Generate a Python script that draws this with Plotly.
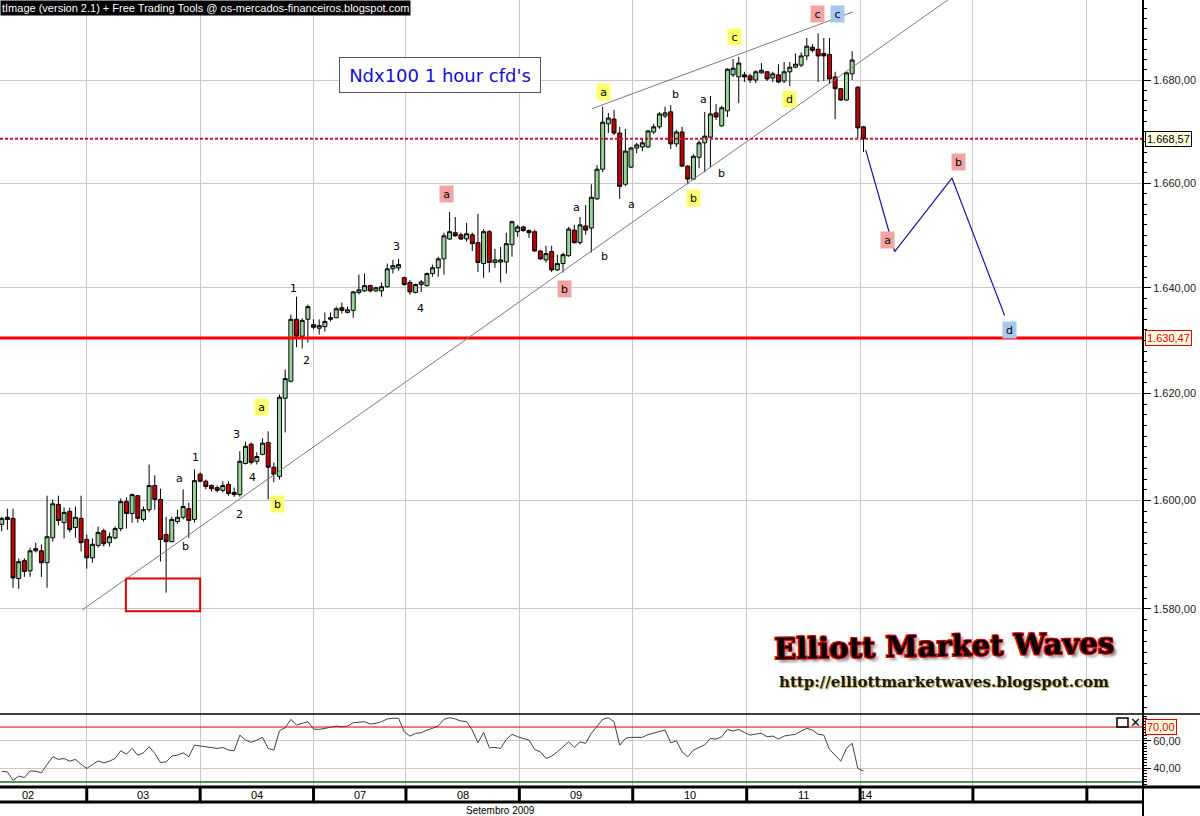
import math
import plotly.graph_objects as go

# ---------------- data (hourly bars, 02..14 Sep 2009) ----------------
bars = list(range(153))
open_ = [1595.6, 1596.9, 1596.7, 1585.6, 1588.9, 1587.0, 1590.7, 1590.7, 1588.5, 1593.1,
         1599.3, 1595.9, 1598.0, 1595.0, 1596.7, 1592.8, 1589.4, 1591.7, 1594.4, 1592.2,
         1593.1, 1594.8, 1599.8, 1597.6, 1600.9, 1596.5, 1598.3, 1602.8, 1600.2, 1593.7,
         1592.4, 1596.1, 1596.9, 1598.5, 1596.5, 1604.9, 1603.6, 1602.8, 1602.4, 1601.9,
         1603.0, 1601.5, 1601.1, 1606.9, 1610.5, 1607.3, 1608.6, 1610.8, 1606.2, 1604.5,
         1619.1, 1622.3, 1634.0, 1630.8, 1634.0, 1633.0, 1632.3, 1632.6, 1634.0, 1634.3,
         1636.2, 1635.3, 1635.7, 1639.1, 1639.4, 1640.4, 1639.4, 1639.4, 1640.2, 1643.6,
         1643.8, 1641.9, 1641.0, 1639.1, 1640.6, 1640.4, 1642.7, 1643.8, 1645.5, 1649.3,
         1650.5, 1650.1, 1649.3, 1650.1, 1648.6, 1644.6, 1650.7, 1644.8, 1644.9, 1644.9,
         1648.2, 1650.7, 1651.6, 1650.9, 1650.7, 1647.0, 1645.3, 1646.9, 1643.4, 1644.6,
         1646.1, 1651.0, 1648.6, 1651.8, 1651.4, 1657.0, 1662.7, 1671.5, 1672.4, 1669.7,
         1659.8, 1663.1, 1666.8, 1667.0, 1667.0, 1669.9, 1670.9, 1673.0, 1673.8, 1667.6,
         1669.9, 1663.3, 1660.8, 1665.0, 1667.8, 1668.9, 1673.6, 1671.1, 1674.0, 1681.0,
         1680.6, 1681.0, 1680.8, 1680.0, 1681.4, 1681.6, 1680.4, 1681.0, 1679.8, 1681.6,
         1682.5, 1682.9, 1684.7, 1686.4, 1686.0, 1685.2, 1685.0, 1680.6, 1678.3, 1676.1,
         1681.2, 1678.6, 1670.9]
high = [1597.0, 1598.5, 1598.5, 1589.3, 1589.3, 1591.3, 1592.2, 1591.9, 1600.9, 1600.2,
        1600.9, 1598.7, 1598.7, 1598.9, 1600.9, 1593.7, 1593.0, 1595.2, 1594.8, 1594.1,
        1595.2, 1600.4, 1600.6, 1601.3, 1601.0, 1598.9, 1606.7, 1604.7, 1602.2, 1597.0,
        1597.0, 1598.3, 1602.1, 1599.6, 1605.8, 1605.2, 1603.9, 1603.0, 1602.8, 1603.6,
        1603.6, 1602.4, 1609.2, 1611.0, 1610.8, 1609.0, 1611.6, 1612.9, 1607.1, 1619.8,
        1624.5, 1634.9, 1638.3, 1634.2, 1636.8, 1634.0, 1634.0, 1635.3, 1635.3, 1636.4,
        1637.2, 1636.4, 1639.4, 1642.5, 1642.7, 1640.6, 1640.2, 1641.0, 1644.6, 1645.3,
        1645.5, 1642.1, 1641.5, 1640.8, 1641.5, 1642.9, 1644.4, 1645.9, 1650.5, 1654.5,
        1653.5, 1650.5, 1652.4, 1650.5, 1654.1, 1651.2, 1651.0, 1647.4, 1647.8, 1650.5,
        1652.8, 1652.0, 1651.8, 1651.1, 1651.1, 1647.2, 1648.0, 1648.0, 1646.3, 1646.7,
        1651.6, 1652.0, 1653.5, 1655.8, 1659.8, 1663.5, 1674.8, 1673.6, 1674.2, 1670.9,
        1670.5, 1667.0, 1667.8, 1668.7, 1670.3, 1671.5, 1673.8, 1674.8, 1675.1, 1670.3,
        1670.9, 1663.5, 1665.6, 1668.3, 1673.8, 1676.9, 1675.3, 1675.0, 1682.3, 1684.1,
        1684.5, 1681.6, 1681.2, 1681.9, 1683.3, 1681.7, 1681.6, 1683.1, 1683.5, 1683.5,
        1685.2, 1685.4, 1688.2, 1687.0, 1689.1, 1688.2, 1688.2, 1681.6, 1678.4, 1681.6,
        1685.6, 1678.8, 1671.1]
low = [1594.3, 1594.6, 1583.9, 1583.7, 1585.9, 1585.9, 1590.4, 1585.9, 1583.9, 1592.4,
       1595.4, 1593.0, 1594.1, 1593.1, 1590.6, 1587.4, 1588.5, 1591.3, 1591.5, 1591.5,
       1592.8, 1594.3, 1594.8, 1595.9, 1595.9, 1596.1, 1597.8, 1598.3, 1588.7, 1583.0,
       1592.2, 1595.7, 1596.5, 1593.1, 1595.9, 1603.4, 1602.1, 1601.7, 1601.5, 1601.5,
       1600.9, 1600.7, 1600.7, 1606.7, 1606.7, 1606.7, 1608.4, 1600.2, 1603.4, 1603.9,
       1612.7, 1622.1, 1628.7, 1628.5, 1629.6, 1632.1, 1631.1, 1631.7, 1633.6, 1634.2,
       1635.1, 1635.1, 1634.3, 1638.7, 1639.2, 1639.1, 1639.2, 1638.3, 1640.0, 1642.7,
       1643.2, 1640.4, 1638.7, 1638.9, 1639.2, 1640.2, 1642.1, 1642.1, 1642.5, 1649.1,
       1649.7, 1649.1, 1648.8, 1647.0, 1643.0, 1641.9, 1642.9, 1643.8, 1641.0, 1642.7,
       1645.9, 1649.7, 1650.7, 1649.5, 1646.9, 1645.3, 1644.8, 1643.0, 1643.2, 1642.9,
       1645.9, 1648.4, 1648.2, 1650.1, 1646.7, 1656.8, 1662.1, 1669.7, 1669.3, 1657.0,
       1659.4, 1662.9, 1665.8, 1666.2, 1666.8, 1669.5, 1670.5, 1672.6, 1666.6, 1667.0,
       1663.1, 1659.8, 1660.6, 1662.9, 1662.1, 1663.1, 1672.2, 1670.9, 1672.8, 1680.6,
       1675.5, 1679.6, 1679.4, 1679.4, 1681.2, 1679.8, 1679.6, 1679.4, 1679.4, 1678.8,
       1682.3, 1682.5, 1683.9, 1685.4, 1679.6, 1679.8, 1679.2, 1672.4, 1675.9, 1675.9,
       1680.0, 1668.7, 1666.0]
close = [1596.7, 1596.5, 1585.7, 1588.7, 1586.9, 1590.7, 1591.1, 1588.5, 1593.3, 1599.4,
         1596.3, 1597.8, 1594.6, 1596.9, 1592.2, 1589.4, 1591.9, 1594.1, 1592.0, 1593.3,
         1594.8, 1599.8, 1597.6, 1601.1, 1596.7, 1598.3, 1602.8, 1600.2, 1592.8, 1592.4,
         1596.5, 1596.9, 1598.9, 1596.3, 1603.7, 1603.6, 1602.6, 1602.2, 1601.9, 1602.8,
         1601.3, 1601.1, 1607.3, 1610.1, 1607.1, 1608.2, 1610.7, 1606.2, 1604.9, 1619.3,
         1622.8, 1634.0, 1630.8, 1633.8, 1636.4, 1632.5, 1632.8, 1633.6, 1634.3, 1636.0,
         1635.7, 1635.8, 1639.2, 1639.6, 1640.4, 1639.4, 1640.0, 1640.2, 1643.6, 1644.2,
         1644.4, 1640.6, 1639.2, 1640.6, 1641.1, 1642.7, 1643.8, 1645.5, 1649.9, 1650.7,
         1649.9, 1649.3, 1650.3, 1648.4, 1644.8, 1650.7, 1644.8, 1645.3, 1645.3, 1648.4,
         1652.6, 1651.6, 1650.9, 1650.5, 1647.0, 1645.5, 1646.5, 1643.4, 1644.6, 1646.3,
         1651.2, 1648.6, 1652.0, 1651.0, 1657.3, 1662.7, 1671.8, 1672.6, 1669.7, 1659.4,
         1666.2, 1666.8, 1667.4, 1667.8, 1670.1, 1670.9, 1673.4, 1673.6, 1667.6, 1669.9,
         1663.3, 1660.8, 1665.2, 1667.8, 1669.1, 1673.4, 1672.8, 1674.6, 1682.1, 1682.3,
         1683.3, 1680.6, 1680.0, 1681.6, 1681.9, 1680.2, 1681.2, 1679.6, 1681.6, 1682.5,
         1683.1, 1684.7, 1686.6, 1685.8, 1684.7, 1684.7, 1680.2, 1678.3, 1676.1, 1681.4,
         1683.9, 1670.7, 1668.57]
rsi = [37.8, 37.3, 31.2, 34.2, 33.2, 38.0, 37.8, 36.6, 42.7, 48.3,
       46.4, 47.1, 45.1, 46.4, 42.9, 39.8, 42.7, 45.3, 43.9, 45.1,
       47.1, 52.7, 50.2, 54.4, 49.5, 51.2, 55.6, 50.8, 44.2, 44.6,
       48.8, 49.5, 51.2, 48.3, 56.8, 56.3, 55.6, 55.1, 54.4, 55.1,
       53.2, 52.7, 64.1, 60.5, 58.8, 60.5, 62.5, 54.4, 53.2, 67.3,
       69.5, 75.6, 71.5, 72.7, 73.9, 68.5, 68.3, 69.0, 69.8, 70.7,
       70.2, 70.7, 73.1, 73.4, 73.9, 72.2, 72.7, 73.9, 75.9, 76.4,
       76.4, 66.6, 63.4, 65.4, 65.8, 67.8, 69.0, 70.9, 75.6, 76.8,
       75.9, 74.4, 73.9, 67.8, 58.5, 66.1, 54.9, 55.1, 54.4, 61.0,
       64.7, 62.9, 61.7, 60.5, 53.7, 51.9, 47.1, 48.8, 51.9, 55.6,
       59.2, 55.1, 59.2, 58.1, 65.4, 70.5, 75.6, 76.8, 73.9, 56.8,
       61.7, 62.5, 62.5, 62.5, 64.5, 65.5, 67.0, 67.8, 58.5, 60.0,
       51.9, 48.3, 53.2, 55.0, 57.0, 61.7, 61.2, 62.9, 68.3, 67.1,
       68.3, 66.1, 64.1, 64.9, 65.4, 62.9, 63.4, 61.2, 63.4, 64.1,
       64.7, 67.1, 69.0, 67.8, 64.7, 64.1, 53.7, 49.5, 45.1, 54.4,
       58.1, 39.8, 38.0]

day_bounds = [15, 35, 55, 71.3, 91.3, 111.3, 131.4, 151.4, 171.3, 191.4]
day_labels = ["02", "03", "04", "07", "08", "09", "10", "11", "14"]
day_label_x = [4.6, 25.0, 45.0, 63.2, 81.3, 101.3, 121.4, 141.4, 152.4]

price_ticks = [1580, 1600, 1620, 1640, 1660, 1680]
price_ticktext = ["1.580,00", "1.600,00", "1.620,00", "1.640,00", "1.660,00", "1.680,00"]
last_price = 1668.57
support_level = 1630.47

# trend lines and projected path (bar index, price)
support_line_x = [14.16, 166.9]
support_line_y = [1579.8, 1695.7]
upper_line_x = [104.1, 150.1]
upper_line_y = [1674.4, 1693.3]
proj_x = [152.4, 157.5, 167.6, 176.9]
proj_y = [1666.4, 1646.9, 1661.0, 1634.7]
box_x = [21.9, 35.0, 35.0, 21.9, 21.9]
box_y = [1585.6, 1585.6, 1579.6, 1579.6, 1585.6]

# wave labels: (text, bar, price, style)
wave_labels = [
    ("1", 51.55, 1639.8, None), ("2", 53.8, 1626.2, None), ("3", 69.7, 1647.8, None),
    ("4", 73.95, 1636.0, None), ("1", 34.1, 1608.0, None), ("a", 31.4, 1604.1, None),
    ("b", 32.5, 1591.5, None), ("2", 42.0, 1597.4, None), ("3", 41.5, 1612.3, None),
    ("4", 44.3, 1604.3, None), ("a", 45.9, 1617.4, "y"), ("b", 48.7, 1599.4, "y"),
    ("a", 78.4, 1657.9, "p"), ("b", 99.2, 1639.8, "p"), ("a", 101.3, 1655.4, None),
    ("b", 106.4, 1645.9, None), ("a", 106.2, 1677.7, "y"), ("a", 111.0, 1656.0, None),
    ("b", 118.9, 1677.1, None), ("a", 123.7, 1676.3, None), ("b", 122.1, 1657.1, "y"),
    ("b", 126.9, 1661.9, None), ("c", 129.2, 1688.4, "y"), ("d", 138.9, 1676.3, "y"),
    ("c", 143.8, 1692.9, "p"), ("c", 147.5, 1692.9, "b"), ("b", 168.8, 1664.1, "p"),
    ("a", 156.3, 1649.1, "p"), ("d", 177.7, 1631.9, "b"),
]
box_colors = {"y": "#ffff6e", "p": "#f4a3a3", "b": "#a6c8ee"}

XR = [-0.3, 201.3]
PLOT_H = 787.0
W_PLOT = 1143.0

def py(px):  # pixel row -> paper y
    return 1 - px / PLOT_H

fig = go.Figure()

fig.add_trace(go.Candlestick(
    x=bars, open=open_, high=high, low=low, close=close,
    increasing=dict(line=dict(color="black", width=1), fillcolor="#9ad49a"),
    decreasing=dict(line=dict(color="black", width=1), fillcolor="#c00000"),
    whiskerwidth=0, xaxis="x", yaxis="y", showlegend=False, hoverinfo="skip"))

fig.add_trace(go.Scatter(x=XR, y=[support_level] * 2, mode="lines",
                         line=dict(color="#ff0000", width=3), xaxis="x", yaxis="y",
                         showlegend=False, hoverinfo="skip"))
fig.add_trace(go.Scatter(x=XR, y=[last_price] * 2, mode="lines",
                         line=dict(color="#c8102e", width=2, dash="3px,2px"), xaxis="x", yaxis="y",
                         showlegend=False, hoverinfo="skip"))
for lx, ly in [(support_line_x, support_line_y), (upper_line_x, upper_line_y)]:
    fig.add_trace(go.Scatter(x=lx, y=ly, mode="lines", line=dict(color="#7a7a7a", width=1),
                             xaxis="x", yaxis="y", showlegend=False, hoverinfo="skip"))
fig.add_trace(go.Scatter(x=proj_x, y=proj_y, mode="lines", line=dict(color="#1414a0", width=1.2),
                         xaxis="x", yaxis="y", showlegend=False, hoverinfo="skip"))
fig.add_trace(go.Scatter(x=box_x, y=box_y, mode="lines", line=dict(color="#e00000", width=2),
                         xaxis="x", yaxis="y", showlegend=False, hoverinfo="skip"))

fig.add_trace(go.Scatter(x=bars, y=rsi, mode="lines", line=dict(color="#404040", width=1),
                         xaxis="x2", yaxis="y2", showlegend=False, hoverinfo="skip"))

grid = "#c8c8c8"
fig.update_layout(
    width=1200, height=816,
    margin=dict(l=0, r=57, t=0, b=29, autoexpand=False),
    paper_bgcolor="white", plot_bgcolor="white",
    boxgap=0.3, boxgroupgap=0,
    xaxis=dict(domain=[0, 1], range=XR, anchor="y", tickmode="array", tickvals=day_bounds,
               showticklabels=False, ticks="", showgrid=True, gridcolor=grid, gridwidth=1,
               zeroline=False, showline=False, rangeslider=dict(visible=False), automargin=False),
    xaxis2=dict(domain=[0, 1], range=XR, anchor="y2", matches="x", tickmode="array",
                tickvals=day_bounds, showticklabels=False, ticks="", showgrid=True,
                gridcolor=grid, zeroline=False, showline=False, automargin=False),
    yaxis=dict(domain=[73 / PLOT_H, 1], type="log", range=[3.193366, 3.229340], side="right",
               anchor="x", tickmode="array", tickvals=price_ticks, ticktext=price_ticktext,
               ticks="outside", ticklen=7, tickcolor="black", tickwidth=1, automargin=False,
               tickfont=dict(family="Liberation Sans, Arial", size=11, color="#222"),
               showgrid=True, gridcolor=grid, zeroline=False, showline=False,
               minor=dict(tickmode="array", tickvals=list(range(1562, 1696, 2)), ticklen=3,
                          tickcolor="black", showgrid=False)),
    yaxis2=dict(domain=[0, 73 / PLOT_H], range=[26.3, 79.5], side="right", anchor="x2",
                tickmode="array", tickvals=[40, 60], ticktext=["40,00", "60,00"],
                ticks="outside", ticklen=7, tickcolor="black", automargin=False,
                tickfont=dict(family="Liberation Sans, Arial", size=11, color="#222"),
                showgrid=True, gridcolor=grid, zeroline=False, showline=False,
                minor=dict(tickmode="array", tickvals=list(range(28, 80, 2)), ticklen=3,
                           tickcolor="black", showgrid=False)),
)

shapes = []
# RSI reference lines
shapes.append(dict(type="line", xref="paper", yref="y2", x0=0, x1=1, y0=70, y1=70,
                   line=dict(color="#d40000", width=1)))
shapes.append(dict(type="line", xref="paper", yref="y2", x0=0, x1=1, y0=30, y1=30,
                   line=dict(color="#1e6e1e", width=1.5)))
# panel separator, axis line, date band
shapes.append(dict(type="line", xref="paper", yref="paper", x0=0, x1=1200 / W_PLOT,
                   y0=py(714), y1=py(714), line=dict(color="black", width=1.5)))
shapes.append(dict(type="line", xref="paper", yref="paper", x0=1, x1=1, y0=py(816), y1=1,
                   line=dict(color="black", width=2)))
shapes.append(dict(type="line", xref="paper", yref="paper", x0=0, x1=1200 / W_PLOT,
                   y0=py(787), y1=py(787), line=dict(color="black", width=3)))
shapes.append(dict(type="line", xref="paper", yref="paper", x0=0, x1=1,
                   y0=py(802), y1=py(802), line=dict(color="black", width=3)))
for b in day_bounds:
    shapes.append(dict(type="line", xref="x", yref="paper", x0=b, x1=b, y0=py(802), y1=py(787),
                       line=dict(color="black", width=3)))
# panel icons
shapes.append(dict(type="rect", xref="paper", yref="paper", x0=1117 / W_PLOT, x1=1128 / W_PLOT,
                   y0=py(727), y1=py(718), line=dict(color="black", width=1.5)))
fig.update_layout(shapes=shapes)

ann = []
ann.append(dict(text="tImage (version 2.1) + Free Trading Tools @ os-mercados-financeiros.blogspot.com",
                xref="paper", yref="paper", x=0, y=1, xanchor="left", yanchor="top",
                showarrow=False, bgcolor="black", borderpad=1,
                font=dict(family="Liberation Sans, Arial", size=11, color="white")))
ann.append(dict(text="Ndx100 1 hour cfd's", xref="paper", yref="paper", x=440 / W_PLOT, y=py(75),
                xanchor="center", yanchor="middle",
                showarrow=False, bordercolor="#555555", borderwidth=1, borderpad=6,
                width=188, height=22, bgcolor="white",
                font=dict(family="DejaVu Sans", size=18, color="#1010d0")))
for t, bx, pr, st in wave_labels:
    a = dict(text=t, x=bx, y=math.log10(pr), xref="x", yref="y", showarrow=False,
             xanchor="center", yanchor="middle",
             font=dict(family="DejaVu Sans", size=11, color="black"))
    if st:
        a.update(bgcolor=box_colors[st], width=9, height=12, borderpad=2)
    ann.append(a)
ann.append(dict(text="1.668,57", xref="paper", yref="y", x=1145 / W_PLOT, y=math.log10(last_price),
                xanchor="left", yanchor="middle", showarrow=False, bgcolor="#ffffe0",
                bordercolor="black", borderwidth=1, borderpad=1,
                font=dict(family="Liberation Sans, Arial", size=11, color="black")))
ann.append(dict(text="1.630,47", xref="paper", yref="y", x=1145 / W_PLOT, y=math.log10(support_level),
                xanchor="left", yanchor="middle", showarrow=False, bgcolor="#ffffe0",
                bordercolor="#e00000", borderwidth=1, borderpad=1,
                font=dict(family="Liberation Sans, Arial", size=11, color="#e00000")))
ann.append(dict(text="70,00", xref="paper", yref="y2", x=1145 / W_PLOT, y=70,
                xanchor="left", yanchor="middle", showarrow=False, bgcolor="#ffffe0",
                bordercolor="#e00000", borderwidth=1, borderpad=1,
                font=dict(family="Liberation Sans, Arial", size=11, color="#e00000")))
ann.append(dict(text="✕", xref="paper", yref="paper", x=1135 / W_PLOT, y=py(722), showarrow=False,
                xanchor="center", yanchor="middle",
                font=dict(family="DejaVu Sans", size=13, color="black", weight="bold")))
for lab, lx in zip(day_labels, day_label_x):
    ann.append(dict(text=lab, xref="x", yref="paper", x=lx, y=py(795), showarrow=False,
                    xanchor="center", yanchor="middle",
                    font=dict(family="Liberation Sans, Arial", size=11, color="black")))
ann.append(dict(text="Setembro 2009", xref="x", yref="paper", x=87.9, y=py(810), showarrow=False,
                xanchor="center", yanchor="middle",
                font=dict(family="Liberation Sans, Arial", size=10, color="black")))
ann.append(dict(text="Elliott Market Waves", xref="paper", yref="paper", x=944 / W_PLOT, y=py(646),
                xanchor="center", yanchor="middle", showarrow=False, textangle=-1,
                font=dict(family="DejaVu Serif", size=29, color="black", weight="bold",
                          shadow="-1px -1px 0 #e00000, 1px -1px 0 #e00000, -1px 1px 0 #e00000, "
                                 "1px 1px 0 #e00000, 3px 3px 3px #808080")))
ann.append(dict(text="http://elliottmarketwaves.blogspot.com", xref="paper", yref="paper",
                x=944 / W_PLOT, y=py(682), xanchor="center", yanchor="middle", showarrow=False,
                font=dict(family="DejaVu Serif", size=15, color="#1a1a1a", weight="bold",
                          shadow="1px 1px 1px #b8a850")))
fig.update_layout(annotations=ann)

fig.write_html("out.html", config={"displayModeBar": False},
               post_script="document.body.style.margin='0px';")
